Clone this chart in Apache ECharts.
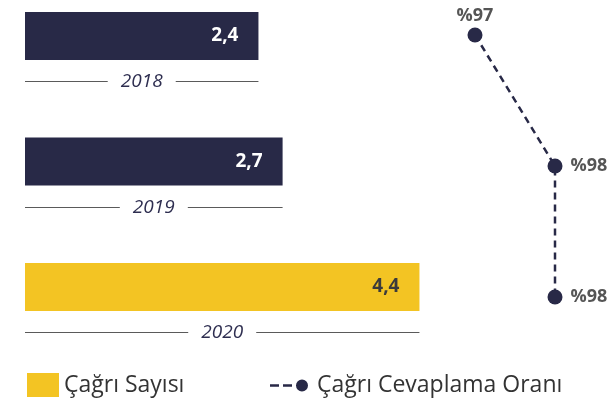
<!DOCTYPE html>
<html>
<head>
<meta charset="utf-8">
<script src="https://cdn.jsdelivr.net/npm/echarts@6/dist/echarts.min.js"></script>
<style>
  html, body { margin: 0; padding: 0; background: #ffffff; }
  #chart { width: 610px; height: 401px; }
</style>
</head>
<body>
<div id="chart"></div>
<script>
// Yearly call volume and answer rate
const years = ['2018', '2019', '2020'];
const callCounts = [2.4, 2.7, 4.4];
const answerRates = [97, 98, 98];

const NAVY = '#282947';
const YELLOW = '#F3C423';
const FONT = '"Open Sans", "Noto Sans", sans-serif';
const X_MIN = -0.5;
const fmt = v => String(v).replace('.', ',');

const chart = echarts.init(document.getElementById('chart'), null, { renderer: 'canvas' });

// Each bar: filled rect from the axis start, value label inside,
// and the year caption framed by two rules underneath.
function renderBar(params, api) {
  const val = api.value(0);
  const idx = api.value(1);
  const start = api.coord([X_MIN, idx]);
  const end = api.coord([val, idx]);
  const h = 48;
  const cy = start[1];
  const last = idx === years.length - 1;
  const fill = last ? YELLOW : NAVY;
  const valueColor = last ? '#3b3b3b' : '#ffffff';
  const midX = (start[0] + end[0]) / 2;
  const ly = Math.round(cy + 45) + 0.5;
  const gap = 34;
  return {
    type: 'group',
    children: [
      { type: 'rect', shape: { x: start[0], y: cy - h / 2, width: end[0] - start[0], height: h },
        style: { fill: fill } },
      { type: 'text', x: end[0] - 20, y: cy,
        style: { text: fmt(val), fill: valueColor, font: 'bold 19px ' + FONT, align: 'right', verticalAlign: 'middle' } },
      { type: 'line', shape: { x1: start[0], y1: ly, x2: midX - gap, y2: ly },
        style: { stroke: '#5a5a5a', lineWidth: 1 } },
      { type: 'line', shape: { x1: midX + gap, y1: ly, x2: end[0], y2: ly },
        style: { stroke: '#5a5a5a', lineWidth: 1 } },
      { type: 'text', x: midX, y: ly,
        style: { text: years[idx], fill: '#2e2e50', font: 'italic 19px ' + FONT, align: 'center', verticalAlign: 'middle' } }
    ]
  };
}

const hiddenAxis = {
  axisLine: { show: false }, axisTick: { show: false },
  axisLabel: { show: false }, splitLine: { show: false }
};

const option = {
  animation: false,
  backgroundColor: '#ffffff',
  grid: [
    { left: 25, top: 36, width: 483, height: 251 },
    { left: 475, top: 35, width: 120, height: 262 }
  ],
  xAxis: [
    Object.assign({ type: 'value', gridIndex: 0, min: X_MIN, max: 5.5 }, hiddenAxis),
    Object.assign({ type: 'value', gridIndex: 1, min: 97, max: 98.5 }, hiddenAxis)
  ],
  yAxis: [
    Object.assign({ type: 'category', gridIndex: 0, data: years, inverse: true, boundaryGap: false }, hiddenAxis),
    Object.assign({ type: 'category', gridIndex: 1, data: years, inverse: true, boundaryGap: false }, hiddenAxis)
  ],
  legend: [
    {
      left: 27, top: 373, padding: 0,
      itemWidth: 32, itemHeight: 24,
      textStyle: { fontSize: 23, color: '#333333', fontFamily: FONT },
      data: [{ name: 'Çağrı Sayısı', icon: 'rect', itemStyle: { color: YELLOW, borderWidth: 0 } }]
    },
    {
      left: 270, top: 374, padding: 0,
      itemWidth: 38, itemHeight: 12,
      textStyle: { fontSize: 23, color: '#333333', fontFamily: FONT, padding: [0, 0, 0, 4] },
      data: [{
        name: 'Çağrı Cevaplama Oranı',
        icon: 'path://M0 4.8h9v2.4H0z M13 4.8h9v2.4h-9z M26 6a6 6 0 1 0 12 0a6 6 0 1 0 -12 0z',
        itemStyle: { color: NAVY, borderWidth: 0 }
      }]
    }
  ],
  series: [
    {
      type: 'custom',
      name: 'Çağrı Sayısı',
      xAxisIndex: 0, yAxisIndex: 0,
      itemStyle: { color: YELLOW },
      renderItem: renderBar,
      encode: { x: 0, y: 1 },
      data: callCounts.map((v, i) => [v, i])
    },
    {
      type: 'line',
      name: 'Çağrı Cevaplama Oranı',
      xAxisIndex: 1, yAxisIndex: 1,
      symbol: 'circle', symbolSize: 15,
      itemStyle: { color: NAVY },
      lineStyle: { color: NAVY, width: 2.5, type: [7, 5] },
      label: {
        show: true, color: '#555555', fontSize: 18, fontWeight: 'bold', fontFamily: FONT,
        formatter: p => '%' + p.value[0]
      },
      data: answerRates.map((v, i) => ({
        value: [v, i],
        label: i === 0 ? { position: 'top', distance: 3 } : { position: 'right', distance: 8 }
      }))
    }
  ]
};

chart.setOption(option);
</script>
</body>
</html>
